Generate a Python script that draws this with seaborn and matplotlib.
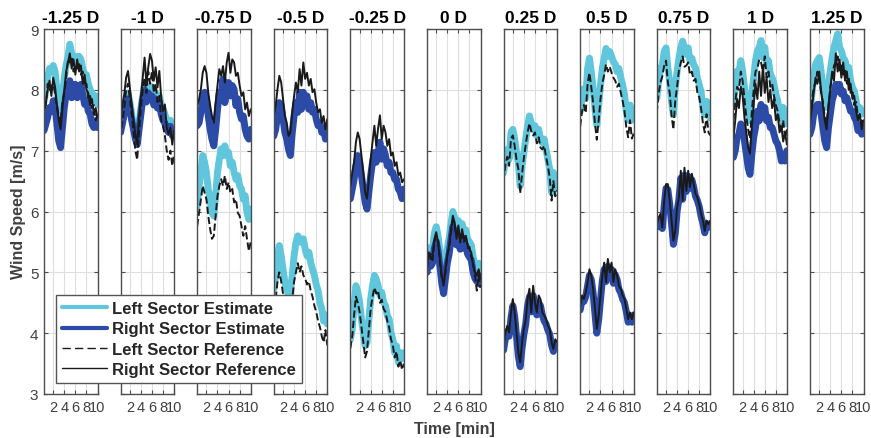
import matplotlib
matplotlib.use("Agg")
import matplotlib.pyplot as plt
from matplotlib.lines import Line2D
import seaborn as sns

# Sample times [min]
TIME = [0.33, 0.67, 1.0, 1.33, 1.67, 2.0, 2.33, 2.67, 3.0, 3.33, 3.67, 4.0, 4.33, 4.67, 5.0,
        5.33, 5.67, 6.0, 6.33, 6.67, 7.0, 7.33, 7.67, 8.0, 8.33, 8.67, 9.0, 9.33, 9.67, 10.0]

# Lateral offset of the measurement position (rotor diameters)
OFFSETS = ["-1.25 D", "-1 D", "-0.75 D", "-0.5 D", "-0.25 D", "0 D",
           "0.25 D", "0.5 D", "0.75 D", "1 D", "1.25 D"]

# ---- -1.25 D ----
m125_left_est = [7.8, 8.0, 8.2, 8.35, 8.3, 8.4, 8.3, 8.0, 7.8, 7.65, 7.9, 8.2, 8.4, 8.55, 8.75,
                 8.6, 8.5, 8.55, 8.45, 8.55, 8.5, 8.35, 8.2, 8.25, 8.1, 8.0, 7.95, 7.85, 7.9, 7.75]
m125_right_est = [7.33, 7.44, 7.55, 7.71, 7.65, 7.82, 7.71, 7.44, 7.16, 7.05, 7.38, 7.71, 7.93, 8.04, 8.15,
                  7.87, 7.98, 8.09, 7.87, 7.98, 8.09, 7.93, 7.76, 7.82, 7.65, 7.6, 7.44, 7.38, 7.49, 7.38]
m125_left_ref = [7.7, 7.75, 8.1, 8.0, 8.05, 8.1, 7.95, 7.7, 7.55, 7.45, 7.8, 7.95, 8.2, 8.5, 8.45,
                 8.55, 8.3, 8.4, 8.35, 8.45, 8.25, 8.3, 8.05, 8.1, 7.85, 7.9, 7.7, 7.75, 7.5, 7.6]
m125_right_ref = [7.6, 7.8, 8.0, 8.15, 7.9, 8.2, 8.05, 7.75, 7.5, 7.35, 7.7, 8.0, 8.3, 8.45, 8.6,
                  8.35, 8.5, 8.25, 8.5, 8.3, 8.4, 8.1, 8.25, 8.0, 7.95, 7.75, 7.85, 7.6, 7.7, 7.55]

# ---- -1 D ----
m100_left_est = [7.35, 7.55, 7.7, 7.85, 7.95, 7.8, 7.6, 7.4, 7.25, 7.2, 7.45, 7.7, 7.9, 8.1, 7.9,
                 8.05, 8.0, 8.05, 7.9, 7.95, 7.85, 7.9, 7.75, 7.7, 7.6, 7.5, 7.45, 7.5, 7.3, 7.45]
m100_right_est = [7.3, 7.45, 7.6, 7.75, 7.85, 7.7, 7.5, 7.35, 7.2, 7.1, 7.35, 7.6, 7.85, 8.0, 7.8,
                  7.95, 7.85, 7.9, 7.75, 7.85, 7.7, 7.8, 7.6, 7.5, 7.45, 7.35, 7.3, 7.4, 7.25, 7.35]
m100_left_ref = [7.2, 7.5, 7.7, 8.0, 8.1, 7.85, 7.6, 7.3, 7.0, 6.85, 7.3, 7.7, 8.0, 8.2, 7.95,
                 8.3, 8.1, 8.3, 7.95, 8.1, 7.8, 7.9, 7.5, 7.4, 7.25, 7.0, 6.85, 7.0, 6.75, 6.95]
m100_right_ref = [7.55, 7.76, 7.93, 8.2, 8.31, 8.04, 7.76, 7.49, 7.27, 7.1, 7.55, 7.87, 8.2, 8.53, 8.09,
                  8.37, 8.59, 8.48, 8.15, 8.37, 8.04, 8.31, 7.87, 7.65, 7.76, 7.38, 7.27, 7.38, 7.1, 7.33]

# ---- -0.75 D ----
m075_left_est = [6.09, 6.42, 6.64, 6.92, 6.81, 6.64, 6.37, 6.2, 5.98, 5.93, 6.26, 6.64, 6.86, 7.03, 6.92,
                 7.08, 6.92, 6.97, 6.75, 6.81, 6.64, 6.53, 6.59, 6.42, 6.37, 6.2, 6.26, 5.98, 5.87, 6.04]
m075_right_est = [7.41, 7.46, 7.63, 7.85, 7.96, 7.85, 7.57, 7.35, 7.19, 7.08, 7.35, 7.68, 7.96, 7.9, 8.18,
                  7.79, 8.01, 8.12, 7.9, 8.07, 8.01, 7.74, 7.85, 7.63, 7.52, 7.57, 7.35, 7.24, 7.19, 7.35]
m075_left_ref = [5.76, 5.98, 6.2, 6.42, 6.31, 6.2, 5.93, 5.71, 5.55, 5.6, 5.93, 6.26, 6.42, 6.53, 6.42,
                 6.59, 6.37, 6.48, 6.31, 6.37, 6.15, 6.2, 5.98, 5.93, 5.76, 5.6, 5.76, 5.55, 5.35, 5.5]
m075_right_ref = [7.74, 7.85, 8.01, 8.28, 8.39, 8.28, 7.96, 7.74, 7.57, 7.46, 7.79, 8.07, 8.34, 8.23, 8.39,
                  8.12, 8.45, 8.61, 8.28, 8.5, 8.45, 8.23, 8.28, 8.07, 7.9, 7.96, 7.68, 7.79, 7.57, 7.68]

# ---- -0.5 D ----
m050_left_est = [4.73, 4.95, 5.27, 5.44, 5.27, 5.05, 4.84, 4.73, 4.62, 4.68, 4.95, 5.27, 5.49, 5.6, 5.55,
                 5.49, 5.55, 5.38, 5.27, 5.33, 5.16, 5.05, 4.95, 4.8, 4.7, 4.5, 4.4, 4.2, 4.3, 4.15]
m050_right_est = [7.24, 7.35, 7.57, 7.79, 7.74, 7.52, 7.3, 7.19, 7.02, 6.92, 7.3, 7.57, 7.79, 7.63, 7.96,
                  7.68, 7.96, 7.79, 7.9, 7.68, 7.79, 7.63, 7.68, 7.52, 7.41, 7.46, 7.3, 7.35, 7.19, 7.35]
m050_left_ref = [4.4, 4.55, 4.85, 5.0, 4.85, 4.65, 4.45, 4.35, 4.2, 4.3, 4.55, 4.85, 5.0, 5.15, 5.0,
                 5.1, 4.95, 4.9, 4.8, 4.85, 4.7, 4.6, 4.45, 4.35, 4.2, 4.1, 3.95, 3.85, 4.05, 3.8]
m050_right_ref = [7.57, 7.74, 8.01, 8.23, 8.12, 7.85, 7.57, 7.46, 7.24, 7.3, 7.63, 7.9, 8.12, 7.96, 8.34,
                  8.07, 8.45, 8.18, 8.28, 8.07, 8.18, 7.96, 8.01, 7.79, 7.63, 7.68, 7.46, 7.57, 7.35, 7.52]

# ---- -0.25 D ----
m025_left_est = [3.9, 4.07, 4.45, 4.78, 4.67, 4.51, 4.23, 4.01, 3.79, 3.85, 4.23, 4.56, 4.78, 4.95, 4.89,
                 4.78, 4.62, 4.67, 4.51, 4.45, 4.29, 4.23, 4.01, 3.9, 3.68, 3.79, 3.52, 3.68, 3.58, 3.68]
m025_right_est = [6.21, 6.37, 6.53, 6.75, 6.92, 6.81, 6.59, 6.37, 6.15, 6.04, 6.32, 6.59, 6.81, 6.97, 6.81,
                  6.97, 7.14, 6.86, 7.03, 6.92, 6.75, 6.81, 6.64, 6.64, 6.53, 6.53, 6.37, 6.32, 6.21, 6.37]
m025_left_ref = [3.75, 3.95, 4.3, 4.6, 4.5, 4.35, 4.1, 3.85, 3.6, 3.7, 4.05, 4.4, 4.6, 4.75, 4.65,
                 4.7, 4.5, 4.55, 4.4, 4.35, 4.2, 4.1, 3.9, 3.8, 3.6, 3.7, 3.45, 3.55, 3.4, 3.5]
m025_right_ref = [6.42, 6.64, 6.81, 7.14, 7.3, 7.19, 6.92, 6.64, 6.32, 6.21, 6.53, 6.86, 7.14, 7.41, 7.08,
                  7.36, 7.58, 7.19, 7.41, 7.3, 7.08, 7.19, 6.92, 6.97, 6.75, 6.81, 6.59, 6.64, 6.48, 6.53]

# ---- 0 D ----
p000_left_est = [5.2, 5.4, 5.35, 5.4, 5.65, 5.75, 5.6, 5.35, 5.05, 4.9, 5.15, 5.4, 5.55, 5.8, 6.0,
                 5.9, 5.7, 5.85, 5.6, 5.8, 5.65, 5.7, 5.55, 5.5, 5.45, 5.25, 5.1, 5.05, 5.15, 5.0]
p000_right_est = [5.0, 5.2, 5.1, 5.15, 5.4, 5.5, 5.35, 5.1, 4.82, 4.65, 4.9, 5.15, 5.3, 5.55, 5.75,
                  5.65, 5.45, 5.6, 5.38, 5.55, 5.4, 5.45, 5.3, 5.25, 5.2, 5.0, 4.9, 4.85, 4.95, 4.8]
p000_left_ref = [5.05, 5.28, 5.3, 5.2, 5.5, 5.6, 5.55, 5.15, 4.9, 4.82, 5.0, 5.3, 5.4, 5.65, 5.85,
                 5.75, 5.6, 5.7, 5.55, 5.65, 5.5, 5.62, 5.4, 5.42, 5.25, 5.15, 4.95, 4.7, 4.95, 4.75]
p000_right_ref = [5.11, 5.33, 5.22, 5.27, 5.55, 5.66, 5.49, 5.22, 4.95, 4.78, 5.05, 5.27, 5.44, 5.71, 5.93,
                  5.82, 5.55, 5.77, 5.49, 5.71, 5.55, 5.6, 5.44, 5.38, 5.33, 5.11, 5.0, 4.95, 5.05, 4.89]

# ---- 0.25 D ----
p025_left_est = [6.64, 6.86, 7.02, 6.86, 7.3, 7.35, 7.19, 6.97, 6.8, 6.42, 6.75, 6.97, 7.19, 7.41, 7.57,
                 7.46, 7.35, 7.41, 7.24, 7.35, 7.19, 7.13, 7.19, 7.02, 6.86, 6.69, 6.31, 6.64, 6.37, 6.47]
p025_right_est = [3.72, 3.92, 4.03, 3.95, 4.25, 4.45, 4.28, 3.95, 3.62, 3.45, 3.76, 3.98, 4.15, 4.45, 4.6,
                  4.35, 4.62, 4.45, 4.3, 4.5, 4.45, 4.3, 4.2, 4.15, 4.05, 3.98, 3.8, 3.7, 3.82, 3.78]
p025_left_ref = [6.5, 6.78, 6.9, 6.75, 7.2, 7.25, 7.08, 6.85, 6.7, 6.3, 6.62, 6.88, 7.1, 7.3, 7.45,
                 7.32, 7.25, 7.3, 7.12, 7.22, 7.05, 7.02, 7.08, 6.9, 6.75, 6.55, 6.18, 6.5, 6.25, 6.35]
p025_right_ref = [3.79, 4.01, 4.12, 4.01, 4.34, 4.56, 4.34, 4.01, 3.68, 3.52, 3.85, 4.07, 4.23, 4.56, 4.73,
                  4.34, 4.78, 4.51, 4.34, 4.62, 4.56, 4.34, 4.29, 4.23, 4.12, 4.07, 3.85, 3.74, 3.9, 3.85]

# ---- 0.5 D ----
p050_left_est = [7.64, 7.86, 8.02, 7.86, 8.35, 8.52, 8.3, 8.02, 7.7, 7.42, 7.75, 8.08, 8.35, 8.52, 8.68,
                 8.55, 8.63, 8.55, 8.46, 8.42, 8.3, 8.35, 8.2, 8.08, 7.92, 7.65, 7.5, 7.75, 7.5, 7.55]
p050_right_est = [4.38, 4.55, 4.52, 4.6, 4.78, 4.95, 4.88, 4.66, 4.32, 4.0, 4.22, 4.55, 4.86, 5.05, 4.85,
                  5.1, 4.95, 5.05, 4.82, 4.96, 4.88, 4.72, 4.66, 4.56, 4.5, 4.35, 4.18, 4.28, 4.18, 4.3]
p050_left_ref = [7.4, 7.65, 7.75, 7.62, 8.1, 8.28, 8.05, 7.78, 7.45, 7.18, 7.5, 7.85, 8.1, 8.25, 8.42,
                 8.3, 8.38, 8.28, 8.2, 8.15, 8.05, 8.1, 7.95, 7.82, 7.65, 7.38, 7.22, 7.5, 7.2, 7.28]
p050_right_ref = [4.45, 4.62, 4.56, 4.67, 4.84, 5.05, 4.95, 4.73, 4.4, 4.07, 4.29, 4.62, 4.95, 5.16, 4.84,
                  5.22, 5.0, 5.16, 4.84, 5.05, 4.95, 4.78, 4.73, 4.62, 4.56, 4.4, 4.23, 4.34, 4.23, 4.34]

# ---- 0.75 D ----
p075_left_est = [7.86, 8.14, 8.36, 8.41, 8.63, 8.69, 8.36, 8.14, 7.81, 7.59, 8.03, 8.3, 8.52, 8.69, 8.8,
                 8.69, 8.58, 8.69, 8.47, 8.52, 8.41, 8.36, 8.19, 8.08, 7.97, 7.7, 7.59, 7.81, 7.59, 7.54]
p075_right_est = [5.74, 5.84, 5.88, 5.72, 6.1, 6.38, 6.36, 6.12, 5.8, 5.46, 5.64, 6.0, 6.2, 6.55, 6.2,
                  6.6, 6.33, 6.58, 6.38, 6.52, 6.4, 6.25, 6.18, 6.08, 5.92, 5.8, 5.65, 5.8, 5.74, 5.8]
p075_left_ref = [7.62, 7.95, 8.12, 8.22, 8.4, 8.48, 8.12, 7.95, 7.58, 7.35, 7.82, 8.05, 8.32, 8.45, 8.55,
                 8.38, 8.4, 8.45, 8.25, 8.3, 8.15, 8.18, 7.95, 7.88, 7.7, 7.45, 7.3, 7.6, 7.3, 7.25]
p075_right_ref = [5.79, 5.9, 5.96, 5.74, 6.18, 6.45, 6.45, 6.18, 5.85, 5.52, 5.68, 6.07, 6.23, 6.67, 6.18,
                  6.72, 6.34, 6.67, 6.4, 6.62, 6.45, 6.29, 6.23, 6.12, 5.96, 5.85, 5.68, 5.85, 5.79, 5.85]

# ---- 1 D ----
p100_left_est = [7.76, 8.04, 8.31, 8.26, 8.48, 8.31, 8.04, 7.82, 7.6, 7.49, 7.93, 8.2, 8.48, 8.64, 8.7,
                 8.81, 8.53, 8.7, 8.42, 8.48, 8.26, 8.2, 8.09, 7.93, 7.82, 7.65, 7.49, 7.71, 7.44, 7.55]
p100_right_est = [6.89, 7.0, 7.22, 7.27, 7.44, 7.38, 7.16, 6.94, 6.72, 6.61, 6.94, 7.22, 7.38, 7.65, 7.49,
                  7.76, 7.55, 7.71, 7.49, 7.55, 7.38, 7.38, 7.27, 7.16, 7.11, 7.0, 6.83, 6.94, 6.83, 7.0]
p100_left_ref = [7.5, 7.8, 8.05, 8.0, 8.3, 8.15, 7.85, 7.55, 7.35, 7.2, 7.65, 8.0, 8.3, 8.35, 8.5,
                 8.45, 8.3, 8.55, 8.2, 8.3, 8.05, 8.1, 7.9, 7.75, 7.65, 7.45, 7.3, 7.5, 7.2, 7.35]
p100_right_ref = [7.2, 7.5, 7.85, 7.7, 8.05, 7.9, 7.55, 7.3, 7.05, 6.95, 7.4, 7.75, 8.1, 7.85, 8.3,
                  7.9, 8.4, 7.95, 8.2, 7.8, 8.0, 7.7, 7.85, 7.5, 7.6, 7.3, 7.4, 7.15, 7.3, 7.1]

# ---- 1.25 D ----
p125_left_est = [7.6, 7.93, 8.2, 8.42, 8.48, 8.53, 8.31, 8.04, 7.82, 7.71, 8.09, 8.31, 8.53, 8.7, 8.81,
                 8.92, 8.7, 8.64, 8.53, 8.48, 8.37, 8.37, 8.15, 8.04, 7.98, 7.82, 7.6, 7.71, 7.6, 7.65]
p125_right_est = [7.27, 7.38, 7.6, 7.71, 7.76, 7.76, 7.6, 7.38, 7.16, 7.05, 7.38, 7.6, 7.82, 7.93, 8.09,
                  7.98, 8.09, 7.93, 7.98, 7.82, 7.87, 7.76, 7.65, 7.65, 7.55, 7.49, 7.33, 7.38, 7.27, 7.38]
p125_left_ref = [7.55, 7.8, 8.05, 8.1, 8.3, 8.2, 7.95, 7.8, 7.55, 7.45, 7.7, 8.05, 8.2, 8.4, 8.45,
                 8.55, 8.3, 8.4, 8.25, 8.35, 8.1, 8.2, 7.95, 8.0, 7.75, 7.8, 7.55, 7.6, 7.45, 7.55]
p125_right_ref = [7.45, 7.7, 7.95, 8.2, 8.1, 8.3, 8.0, 7.75, 7.5, 7.35, 7.75, 8.0, 8.3, 8.15, 8.6,
                  8.3, 8.5, 8.2, 8.45, 8.15, 8.3, 8.0, 8.1, 7.85, 7.9, 7.65, 7.5, 7.6, 7.35, 7.5]

PANELS = [
    (m125_left_est, m125_right_est, m125_left_ref, m125_right_ref),
    (m100_left_est, m100_right_est, m100_left_ref, m100_right_ref),
    (m075_left_est, m075_right_est, m075_left_ref, m075_right_ref),
    (m050_left_est, m050_right_est, m050_left_ref, m050_right_ref),
    (m025_left_est, m025_right_est, m025_left_ref, m025_right_ref),
    (p000_left_est, p000_right_est, p000_left_ref, p000_right_ref),
    (p025_left_est, p025_right_est, p025_left_ref, p025_right_ref),
    (p050_left_est, p050_right_est, p050_left_ref, p050_right_ref),
    (p075_left_est, p075_right_est, p075_left_ref, p075_right_ref),
    (p100_left_est, p100_right_est, p100_left_ref, p100_right_ref),
    (p125_left_est, p125_right_est, p125_left_ref, p125_right_ref),
]

SERIES_LABELS = ["Left Sector Estimate", "Right Sector Estimate",
                 "Left Sector Reference", "Right Sector Reference"]

CYAN = "#5fc6dc"
BLUE = "#2b4ba6"
BLACK = "#1a1a1a"
FRAME = "#4d4d4d"
TEXT_GRAY = "#404040"

sns.set_style("white")
plt.rcParams["font.family"] = ["Liberation Sans", "DejaVu Sans"]

W, H = 871, 439
fig = plt.figure(figsize=(W / 100, H / 100), dpi=100)

left0, pitch, width = 44, 76.6, 53.5
top_px, bottom_px = 30, 395

styles = [
    dict(color=CYAN, linewidth=5.0, linestyle="-"),
    dict(color=BLUE, linewidth=5.0, linestyle="-"),
    dict(color=BLACK, linewidth=1.4, linestyle="--"),
    dict(color=BLACK, linewidth=1.4, linestyle="-"),
]

for i, (title, series) in enumerate(zip(OFFSETS, PANELS)):
    x0 = (left0 + i * pitch) / W
    ax = fig.add_axes([x0, (H - bottom_px) / H, width / W, (bottom_px - top_px) / H])
    for values, st in zip(series, styles):
        sns.lineplot(x=TIME, y=values, ax=ax, estimator=None, sort=False, **st)
    ax.set_xlim(1 / 3, 10)
    ax.set_ylim(3, 9)
    ax.set_xticks([2, 4, 6, 8, 10])
    ax.set_yticks([3, 4, 5, 6, 7, 8, 9])
    ax.grid(True, color="#dedede", linewidth=0.8)
    ax.set_axisbelow(True)
    ax.set_xlabel("")
    ax.set_ylabel("")
    for sp in ax.spines.values():
        sp.set_visible(True)
        sp.set_color(FRAME)
        sp.set_linewidth(1.0)
    ax.tick_params(axis="both", direction="in", length=3, width=0.8, color=FRAME,
                   top=True, right=True, bottom=True, left=True,
                   labelsize=10.5, labelcolor=TEXT_GRAY, pad=4)
    ax.tick_params(axis="y", labelleft=(i == 0), labelsize=11)
    ax.set_title(title, fontsize=12.5, fontweight="bold", color="black", pad=5)

fig.text(454 / W, 1 - 430 / H, "Time [min]", ha="center", va="center",
         fontsize=11.5, fontweight="bold", color=TEXT_GRAY)
fig.text(19 / W, 1 - 212 / H, "Wind Speed [m/s]", ha="center", va="center",
         rotation=90, fontsize=11.5, fontweight="bold", color=TEXT_GRAY)

handles = [Line2D([], [], color=CYAN, linewidth=3.0),
           Line2D([], [], color=BLUE, linewidth=3.0),
           Line2D([], [], color=BLACK, linewidth=1.0, linestyle=(0, (6, 3))),
           Line2D([], [], color=BLACK, linewidth=1.0)]
leg = fig.legend(handles, SERIES_LABELS, loc="lower left",
                 bbox_to_anchor=(56 / W, (H - 384) / H), borderaxespad=0,
                 frameon=True, fancybox=False, framealpha=1, edgecolor="#555555",
                 handlelength=2.7, handletextpad=0.3, labelspacing=0.32,
                 borderpad=0.35, prop=dict(weight="bold", size=12))
leg.get_frame().set_linewidth(1.0)

fig.savefig("out.png", dpi=100, facecolor="white")
